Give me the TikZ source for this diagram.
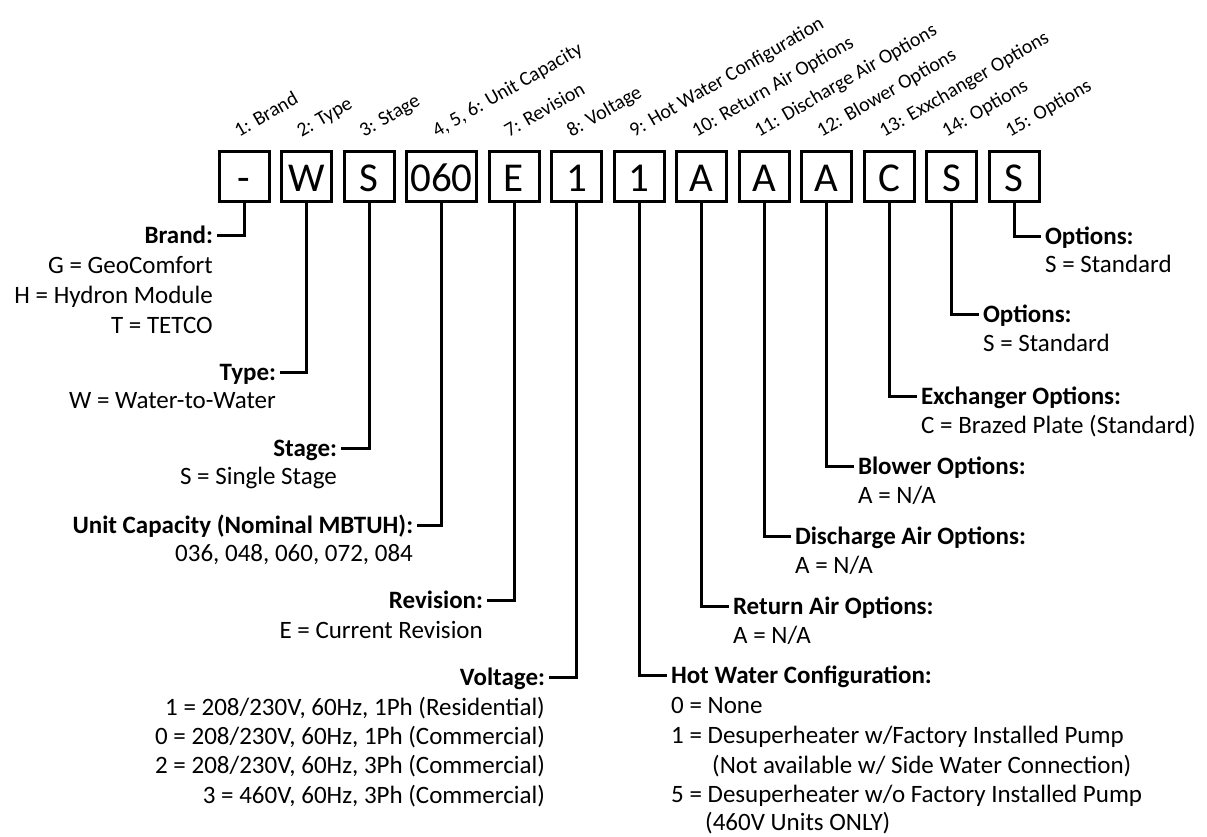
\documentclass[tikz,border=0pt]{standalone}
\usepackage{fontspec}
\setmainfont{Carlito}
\begin{document}
\begin{tikzpicture}[x=1pt,y=-1pt,
  codebox/.style={draw, line width=3pt, minimum width=50pt, minimum height=50pt, inner sep=0pt, text height=30pt, text depth=0pt, font=\fontsize{41}{45}\selectfont},
  poslbl/.style={rotate=30, anchor=base west, inner sep=0pt, font=\fontsize{20}{24}\selectfont},
  head/.style={inner sep=0pt, outer sep=4pt, text height=16pt, text depth=0pt, font=\bfseries\fontsize{25}{30}\selectfont},
  leftlbl/.style={head, anchor=east},
  rightlbl/.style={head, anchor=west},
  optl/.style={inner sep=0pt, anchor=base east, font=\fontsize{25}{30}\selectfont},
  optr/.style={inner sep=0pt, anchor=base west, font=\fontsize{25}{30}\selectfont},
  conn/.style={line width=3pt}
]
\useasboundingbox (0,0) rectangle (1207,836);

% code boxes
\node[codebox] (b1) at (244,176.5) {-};
\node[codebox] (b2) at (306.5,176.5) {W};
\node[codebox] (b3) at (369,176.5) {S};
\node[codebox, minimum width=70pt] (b4) at (441.5,176.5) {060};
\node[codebox] (b5) at (514,176.5) {E};
\node[codebox] (b6) at (576.5,176.5) {1};
\node[codebox] (b7) at (639,176.5) {1};
\node[codebox] (b8) at (701.5,176.5) {A};
\node[codebox] (b9) at (764,176.5) {A};
\node[codebox] (b10) at (826.5,176.5) {A};
\node[codebox] (b11) at (889,176.5) {C};
\node[codebox] (b12) at (951.5,176.5) {S};
\node[codebox] (b13) at (1014,176.5) {S};

% position labels
\node[poslbl] (p1) at (239,137.5) {1: Brand};
\node[poslbl] (p2) at (301.5,137.5) {2: Type};
\node[poslbl] (p3) at (364,137.5) {3: Stage};
\node[poslbl] (p4) at (437,137.5) {4, 5, 6: Unit Capacity};
\node[poslbl] (p5) at (509,137.5) {7: Revision};
\node[poslbl] (p6) at (571.5,137.5) {8: Voltage};
\node[poslbl] (p7) at (634,137.5) {9: Hot Water Configuration};
\node[poslbl] (p8) at (696.5,137.5) {10: Return Air Options};
\node[poslbl] (p9) at (759,137.5) {11: Discharge Air Options};
\node[poslbl] (p10) at (821.5,137.5) {12: Blower Options};
\node[poslbl] (p11) at (884,137.5) {13: Exxchanger Options};
\node[poslbl] (p12) at (946.5,137.5) {14: Options};
\node[poslbl] (p13) at (1010,137.5) {15: Options};

% left headings
\node[leftlbl] (h1) at (217,235) {Brand:};
\node[leftlbl] (h2) at (280,372) {Type:};
\node[leftlbl] (h3) at (341,448) {Stage:};
\node[leftlbl] (h4) at (417,525) {Unit Capacity (Nominal MBTUH):};
\node[leftlbl] (h5) at (487,600) {Revision:};
\node[leftlbl] (h6) at (549,677) {Voltage:};

% right headings
\node[rightlbl] (h13) at (1041,236) {Options:};
\node[rightlbl] (h12) at (979,314) {Options:};
\node[rightlbl] (h11) at (917,396) {Exchanger Options:};
\node[rightlbl] (h10) at (854,466) {Blower Options:};
\node[rightlbl] (h9) at (791,536) {Discharge Air Options:};
\node[rightlbl] (h8) at (729,606) {Return Air Options:};
\node[rightlbl] (h7) at (667,675) {Hot Water Configuration:};

% left options
\node[optl] (o1a) at (213,273) {G = GeoComfort};
\node[optl] (o1b) at (213,303) {H = Hydron Module};
\node[optl] (o1c) at (213,333) {T = TETCO};
\node[optl] (o2a) at (276,408) {W = Water-to-Water};
\node[optl] (o3a) at (337,484) {S = Single Stage};
\node[optl] (o4a) at (413,561) {036, 048, 060, 072, 084};
\node[optl] (o5a) at (483,638) {E = Current Revision};
\node[optl] (o6a) at (545,715) {1 = 208/230V, 60Hz, 1Ph (Residential)};
\node[optl] (o6b) at (545,744) {0 = 208/230V, 60Hz, 1Ph (Commercial)};
\node[optl] (o6c) at (545,773) {2 = 208/230V, 60Hz, 3Ph (Commercial)};
\node[optl] (o6d) at (545,803) {3 = 460V, 60Hz, 3Ph (Commercial)};

% right options
\node[optr] (o13a) at (1045,272) {S = Standard};
\node[optr] (o12a) at (983,351) {S = Standard};
\node[optr] (o11a) at (921,433) {C = Brazed Plate (Standard)};
\node[optr] (o10a) at (858,503) {A = N/A};
\node[optr] (o9a) at (795,573) {A = N/A};
\node[optr] (o8a) at (733,643) {A = N/A};
\node[optr] (o7a) at (671,713) {0 = None};
\node[optr] (o7b) at (671,743) {1 = Desuperheater w/Factory Installed Pump};
\node[optr] (o7c) at (712,773) {(Not available w/ Side Water Connection)};
\node[optr] (o7d) at (671,802) {5 = Desuperheater w/o Factory Installed Pump};
\node[optr] (o7e) at (705,830) {(460V Units ONLY)};

% connectors
\draw[conn] (b1.south) |- (h1);
\draw[conn] (b2.south) |- (h2);
\draw[conn] (b3.south) |- (h3);
\draw[conn] (b4.south) |- (h4);
\draw[conn] (b5.south) |- (h5);
\draw[conn] (b6.south) |- (h6);
\draw[conn] (b7.south) |- (h7);
\draw[conn] (b8.south) |- (h8);
\draw[conn] (b9.south) |- (h9);
\draw[conn] (b10.south) |- (h10);
\draw[conn] (b11.south) |- (h11);
\draw[conn] (b12.south) |- (h12);
\draw[conn] (b13.south) |- (h13);
\end{tikzpicture}
\end{document}
